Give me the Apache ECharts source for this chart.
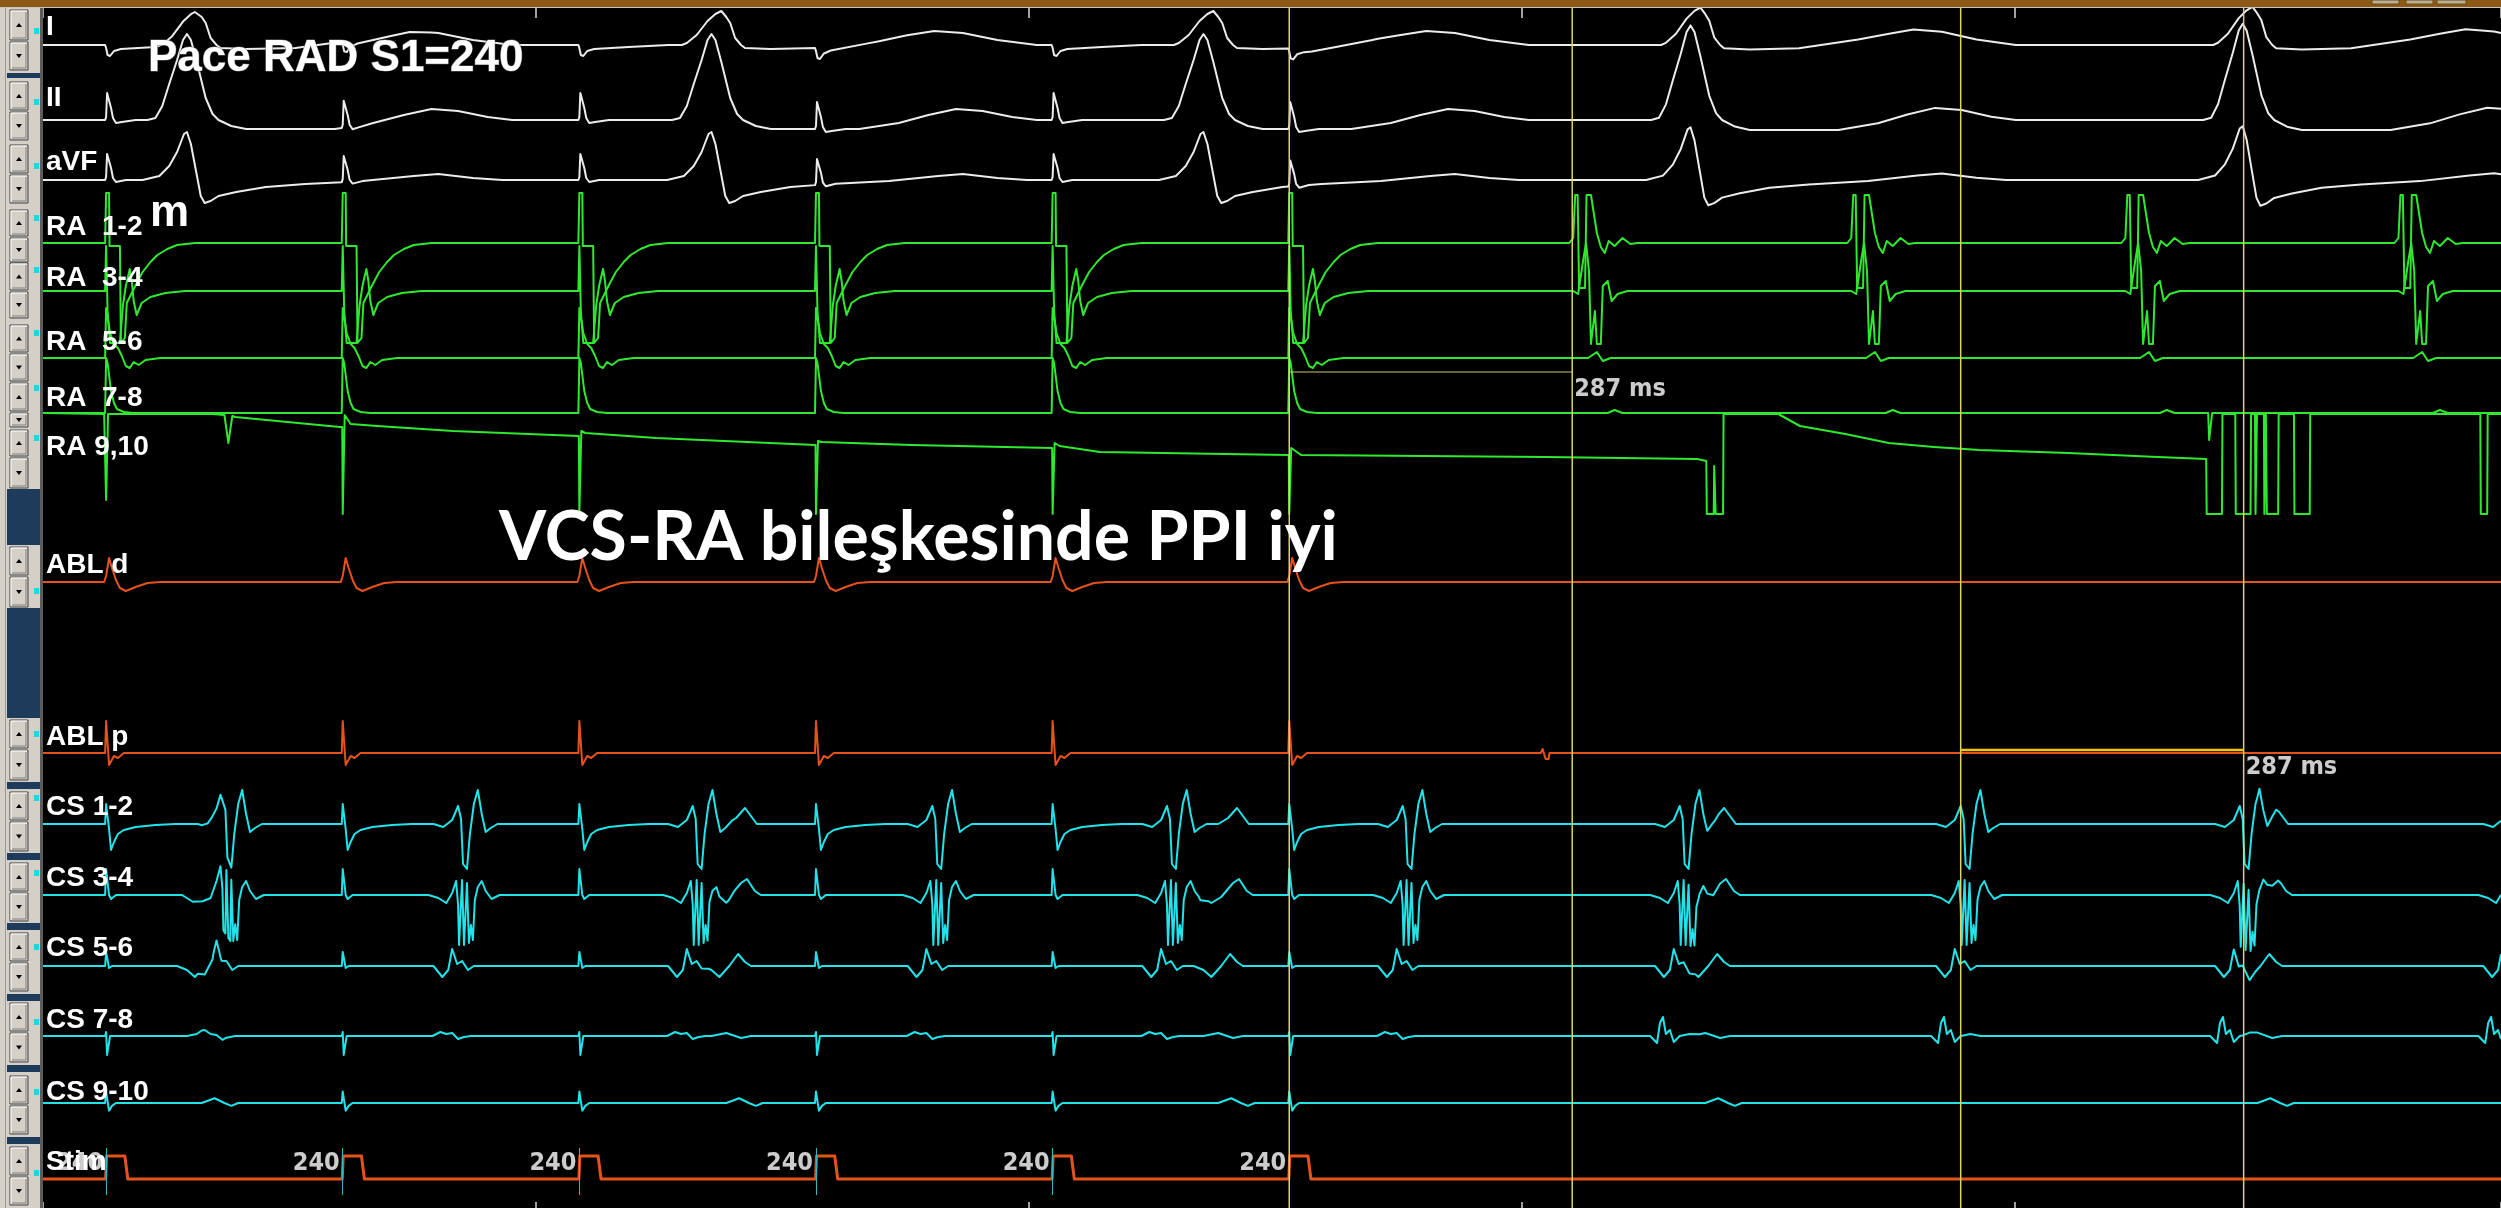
<!DOCTYPE html>
<html>
<head>
<meta charset="utf-8">
<script src="https://cdn.jsdelivr.net/npm/echarts/dist/echarts.min.js"></script>
<style>
html,body{margin:0;padding:0;background:#000;overflow:hidden}
#chart{width:2501px;height:1208px}
</style>
</head>
<body>
<div id="chart"></div>
<script>
// ---------- Recording data (time in ms from the left edge of the strip) ----------
const TMAX = 2493;
const paceTimes = [64, 304, 544, 784, 1024, 1264];
const stimCycleLabels = [240, 240, 240, 240, 240, 240];
const qrsTimes = [146, 678, 1177, 1671, 2231];
const qrsGain = [1.0, 1.0, 1.0, 1.1, 1.12];
const raReturnTimes = [1552, 1834, 2112, 2389];
const csPacedTimes = [182, 421, 659, 902, 1140, 1379];
const csReturnTimes = [1660, 1945, 2228, 2500];
const ra78DipTimes = [2197];
const ablpNotchTimes = [1523];
const caliperPairs = [[1264, 1551], [1945, 2232]];

const channelNames = ['I', 'II', 'aVF', 'RA  1-2', 'RA  3-4', 'RA  5-6', 'RA  7-8', 'RA 9,10',
  'ABL d', 'ABL p', 'CS 1-2', 'CS 3-4', 'CS 5-6', 'CS 7-8', 'CS 9-10', 'Stim'];

// ---------- Waveform shapes: [ms relative to event, amplitude] ----------
const I_pace   = [[-1,0],[0,-3],[1.5,-10],[4,-11],[8,-6],[15,-4],[50,-2],[90,0]];
const I_qrs    = [[-30,0],[-25,2],[-15,10],[-4,24],[4,31],[10,34],[15,28],[19,22],[24,7],[30,0],[34,-3],[60,-4],[110,-3],[170,5],[200,10],[226,14],[255,12],[290,5],[330,0]];
const II_pace  = [[-1,0],[0,3],[1,27],[3,27],[5,12],[7,2],[10,-3],[16,-2],[30,0]];
const II_qrs   = [[-40,0],[-32,2],[-25,14],[-18,36],[-10,60],[-4,80],[0,86],[4,80],[10,58],[19,22],[26,6],[32,0],[45,-6],[60,-9],[150,-9],[190,-3],[220,5],[248,11],[275,9],[305,3],[330,0]];
const aVF_pace = [[-1,0],[0,3],[1,26],[3,26],[5,12],[7,2],[10,-2],[20,0]];
const aVF_qrs  = [[-45,0],[-28,4],[-18,14],[-10,28],[-3,46],[0,48],[4,36],[9,10],[14,-16],[18,-23],[24,-21],[32,-16],[50,-12],[80,-7],[120,-4],[180,-1],[230,4],[255,6],[290,2],[320,0]];

const RA12_pace = [[-1,0],[0,50],[3,50],[3.5,-3],[14,-3],[15,-100],[19,-95],[21,-60],[25,-52],[30,-42],[37,-29],[45,-19],[52,-12],[62,-6],[72,-2],[90,0]];
const RA12_A    = [[-4,0],[0,5],[2,48],[4.5,48],[6,-45],[12,-45],[13.5,48],[18,48],[24,10],[28,-4],[32,-10],[36,2],[42,-3],[50,5],[58,-1],[65,0]];
const RA34_pace = [[-1,0],[0,45],[1.5,-20],[4,-52],[14,-52],[17,-15],[20,5],[24,22],[26,10],[28,-10],[31,-24],[36,-12],[45,-6],[60,-2],[80,0]];
const RA34_A    = [[0,0],[5,-3],[10,30],[13,48],[16,20],[18,-53],[22,-20],[24,-53],[28,-53],[30,5],[35,10],[39,-10],[45,-3],[55,0]];
const RA56_pace = [[-1,0],[0,50],[2,48],[4,25],[8,14],[12,10],[16,2],[20,-8],[24,-10],[28,-4],[33,-7],[40,-2],[55,0]];
const RA56_A    = [[15,0],[24,6],[30,-3],[38,0]];
const RA78_pace = [[-1,0],[0,55],[1.5,50],[3,38],[5,22],[8,10],[11,4],[18,1],[28,0]];
const RA78_A    = [[35,0],[42,3],[50,0]];
const RA78_dip  = [[-1,0],[0,-27],[2,-27],[3,0]];
const ra910Trace = [
  [0,0],[62,-1],[63.5,-2],[64,-87],[65.5,-87],[66,-1],
  [172,-1],[184,-2],[188,-30],[192,-3],[195,-4],
  [301,-14],[303.5,-14],[304,-101],[305.5,-101],[306,-2],[308,-3],[312,-11],[339,-13],[416,-18],[543.5,-23],
  [544,-101],[545.5,-101],[546,-18],[550,-20],[622,-25],[783.5,-32],
  [784,-101],[785.5,-101],[786,-28],[790,-29],[881,-32],[1023.5,-35],
  [1024,-101],[1025.5,-101],[1026,-30],[1031,-33],[1072,-39],[1263.5,-42],
  [1264,-101],[1265.5,-101],[1266,-35],[1276,-42],[1524,-44],[1678,-46],[1687,-48],
  [1687.5,-101],[1694.5,-101],[1695,-53],[1696.5,-101],[1704,-101],[1704.5,-1],
  [1760,-1],[1782,-13],[1828,-21],[1872,-30],[1918,-34],[1964,-37],[2054,-40],[2145,-44],[2194,-46],
  [2194.5,-101],[2210,-101],[2210.5,-1],[2223.5,-1],[2224,-101],[2239,-101],[2239.5,-1],
  [2243.5,-1],[2244,-101],[2245,-101],[2245.5,-1],[2252.5,-1],[2253,-101],[2254,-101],[2254.5,-1],
  [2255,-1],[2255.5,-101],[2267,-101],[2267.5,-1],[2283,-1],[2283.5,-101],[2299,-101],[2299.5,-1],
  [2472,-1],[2472.5,-101],[2479,-101],[2479.5,-1],[2493,-1]
];

const ABLd_pace  = [[-2,0],[0,6],[3,24],[6,14],[10,2],[14,-6],[20,-9],[30,-5],[42,-1],[55,0]];
const ABLp_pace  = [[-1,0],[0,32],[2,32],[3,-12],[5,-10],[8,-3],[12,-5],[18,0]];
const ABLp_notch = [[-4,0],[-2,4],[0,4],[1,-6],[4,-6],[5,0]];

const CS12_pace = [[-1,0],[0,20],[2,20],[3,-5],[5,-26],[8,-18],[12,-10],[18,-6],[30,-3],[50,-1],[70,0]];
const CS12_A    = [[-25,0],[-15,-3],[-6,4],[0,18],[3,5],[5,-40],[9,-45],[12,-10],[16,20],[20,34],[24,10],[28,-8],[33,-4],[40,0]];
const CS12_V    = [[15,0],[25,6],[34,16],[40,8],[46,0]];
const CS34_pace = [[-1,0],[0,26],[2,26],[3,0],[5,-4],[10,0]];
const CS34_A    = [[-30,0],[-20,-3],[-12,-8],[-6,2],[-2,14],[0,-10],[1,-50],[3,-50],[4,15],[6,-50],[8,-50],[9,12],[11,-48],[13,-30],[15,-45],[17,-5],[20,8],[24,14],[28,4],[34,-4],[42,0]];
const CS34_V    = [[-5,0],[8,-8],[18,-2],[30,12],[36,16],[44,4],[50,0]];
const CS56_pace = [[-1,0],[0,14],[2,14],[3,-2],[6,0]];
const CS56_A    = [[-25,0],[-16,-11],[-10,-4],[-6,17],[-3,8],[-1,2],[4,5],[10,-4],[16,0]];
const CS56_V    = [[-10,0],[0,-4],[8,-11],[18,0],[27,12],[34,4],[40,0]];
const CS78_pace = [[-1,0],[0,4],[1,-19],[3,-19],[4,0]];
const CS78_Ap   = [[-26,0],[-18,4],[-12,2],[-6,3],[0,-3],[6,-1],[13,0]];
const CS78_At   = [[-30,0],[-23,-7],[-20,13],[-17,19],[-14,2],[-10,6],[-6,-6],[0,0],[10,2],[20,0]];
const CS78_V    = [[0,0],[15,3],[30,-2],[40,0]];
const CS910_pace = [[-1,0],[0,12],[2,10],[3,-8],[6,-3],[10,0]];
const CS910_V    = [[15,0],[28,5],[38,0],[45,-3],[52,0]];
const stim_pulse = [[-0.5,0],[0.5,23],[19,23],[22,0]];

// ---------- Trace assembly ----------
function shapeAt(shape, dt) {
  const n = shape.length;
  if (dt < shape[0][0] || dt > shape[n - 1][0]) return 0;
  for (let i = 1; i < n; i++) {
    if (dt <= shape[i][0]) {
      const [t0, v0] = shape[i - 1], [t1, v1] = shape[i];
      return t1 === t0 ? v1 : v0 + (v1 - v0) * (dt - t0) / (t1 - t0);
    }
  }
  return shape[n - 1][1];
}
function buildTrace(parts, lo, hi) {
  const ts = new Set([0, TMAX]);
  parts.forEach(([times, shape]) => times.forEach(t0 => shape.forEach(([dt]) => {
    const t = t0 + dt;
    if (t >= 0 && t <= TMAX) ts.add(Math.round(t * 100) / 100);
  })));
  return [...ts].sort((a, b) => a - b).map(t => {
    let v = 0;
    parts.forEach(([times, shape, gains]) => times.forEach((t0, i) => {
      v += shapeAt(shape, t - t0) * (gains ? gains[i] : 1);
    }));
    return [t, Math.max(lo, Math.min(hi, v))];
  });
}

const WHITE = '#ececec', GREEN = '#2fe82f', CYAN = '#22e2ea', ORANGE = '#e6521c';
// channel lanes: baseline row on screen, headroom above/below
const channels = [
  { color: WHITE,  base: 45,   up: 45,  parts: [[paceTimes, I_pace], [qrsTimes, I_qrs, qrsGain]] },
  { color: WHITE,  base: 120,  parts: [[paceTimes, II_pace], [qrsTimes, II_qrs, qrsGain]] },
  { color: WHITE,  base: 180,  parts: [[paceTimes, aVF_pace], [qrsTimes, aVF_qrs, qrsGain]] },
  { color: GREEN,  base: 243,  parts: [[paceTimes, RA12_pace], [raReturnTimes, RA12_A]] },
  { color: GREEN,  base: 291,  parts: [[paceTimes, RA34_pace], [raReturnTimes, RA34_A]] },
  { color: GREEN,  base: 358,  parts: [[paceTimes, RA56_pace], [raReturnTimes, RA56_A]] },
  { color: GREEN,  base: 413,  parts: [[paceTimes, RA78_pace], [raReturnTimes, RA78_A], [ra78DipTimes, RA78_dip]] },
  { color: GREEN,  base: 413,  parts: [[[0], ra910Trace]] },
  { color: ORANGE, base: 582,  parts: [[paceTimes, ABLd_pace]] },
  { color: ORANGE, base: 753,  parts: [[paceTimes, ABLp_pace], [ablpNotchTimes, ABLp_notch]] },
  { color: CYAN,   base: 824,  parts: [[paceTimes, CS12_pace], [csPacedTimes, CS12_A], [csReturnTimes, CS12_A], [qrsTimes, CS12_V]] },
  { color: CYAN,   base: 895,  parts: [[paceTimes, CS34_pace], [csPacedTimes, CS34_A], [csReturnTimes, CS34_A], [qrsTimes, CS34_V]] },
  { color: CYAN,   base: 966,  parts: [[paceTimes, CS56_pace], [csPacedTimes, CS56_A], [csReturnTimes, CS56_A], [qrsTimes, CS56_V]] },
  { color: CYAN,   base: 1036, parts: [[paceTimes, CS78_pace], [csPacedTimes, CS78_Ap], [csReturnTimes, CS78_At], [qrsTimes, CS78_V]] },
  { color: CYAN,   base: 1108, parts: [[paceTimes, CS910_pace], [qrsTimes, CS910_V]] },
  { color: ORANGE, base: 1179, up: 31, down: 16, width: 3, parts: [[paceTimes, stim_pulse]] }
];
const labelRows = [27, 98, 162, 227, 278, 342, 398, 447, 565, 737, 807, 878, 948, 1020, 1092, 1162];
const dotRows   = [31, 102, 166, 218, 270, 333, 388, 438, 591, 734, 798, 873, 947, 1022, 1092, 1173];
const buttonRows = [[10,40,42,70],[82,110,112,140],[145,173,175,203],[210,236,238,262],[263,290,292,318],
  [325,352,354,381],[383,411,413,427],[430,456,458,488],[547,575,577,607],[720,748,750,780],
  [792,820,822,851],[863,891,893,921],[933,961,963,991],[1003,1031,1033,1062],[1076,1104,1106,1134],[1147,1175,1177,1205]];
const navyBands = [[73,78],[489,545],[608,718],[782,789],[853,860],[923,930],[994,1001],[1065,1072],[1137,1144]];
const caliperLanes = [{ ch: 6, level: 41, color: '#cfc46a', width: 1.2 }, { ch: 9, level: 3, color: '#f6c800', width: 2.5 }];
const NARROW = '"Liberation Sans Narrow","DejaVu Sans Condensed","DejaVu Sans",sans-serif';

const grids = [], xAxes = [], yAxes = [], series = [];
const LEFT = 43;
channels.forEach((ch, i) => {
  const up = ch.up || 110, down = ch.down || 110;
  grids.push({ left: LEFT, right: 0, top: ch.base - up, height: up + down });
  xAxes.push({ type: 'value', gridIndex: i, min: 0, max: TMAX, show: false });
  yAxes.push({ type: 'value', gridIndex: i, min: -down, max: up, show: false });
  series.push({
    type: 'line', xAxisIndex: i, yAxisIndex: i, data: buildTrace(ch.parts, -down, up),
    symbol: 'none', showSymbol: false, clip: false, silent: true, z: 2,
    lineStyle: { color: ch.color, width: ch.width || 2, join: 'round' }
  });
});
const STIM = channels.length - 1;
// pace markers and cycle length labels on the stim lane
series[STIM].markLine = {
  symbol: 'none', silent: true, label: { show: false },
  lineStyle: { color: '#3ab7be', width: 1, type: 'solid' },
  data: paceTimes.map(t => ({ xAxis: t }))
};
series.push({
  type: 'scatter', xAxisIndex: STIM, yAxisIndex: STIM, symbolSize: 0, silent: true, z: 5,
  data: paceTimes.map((t, i) => ({ value: [t, 16], label: { formatter: String(stimCycleLabels[i]) } })),
  label: { show: true, position: 'left', distance: 3, color: '#fff', fontWeight: 'bold',
    fontFamily: NARROW, fontSize: 25 }
});

// frame grid: time ticks at top and bottom plus cursors
const F = channels.length;
grids.push({ left: LEFT, right: 0, top: 8, bottom: 0 });
xAxes.push({ type: 'value', gridIndex: F, min: 0, max: TMAX, interval: 500, position: 'top',
  axisLine: { show: false, onZero: false }, axisLabel: { show: false }, splitLine: { show: false },
  axisTick: { show: true, inside: true, length: 10, lineStyle: { color: '#d8d8d8', width: 1.5 } } });
xAxes.push({ type: 'value', gridIndex: F, min: 0, max: TMAX, interval: 500, position: 'bottom',
  axisLine: { show: false, onZero: false }, axisLabel: { show: false }, splitLine: { show: false },
  axisTick: { show: true, inside: true, length: 6, lineStyle: { color: '#d8d8d8', width: 1.5 } } });
yAxes.push({ type: 'value', gridIndex: F, min: 0, max: 1, show: false });
caliperPairs.flat().forEach(t => series.push({
  type: 'line', xAxisIndex: F, yAxisIndex: F, data: [[t, 0], [t, 1]], symbol: 'none', silent: true, z: 6,
  lineStyle: { color: '#dcd46a', width: 1.5 }
}));

caliperPairs.forEach(([a, b], k) => {
  const lane = caliperLanes[k];
  series.push({
    type: 'line', xAxisIndex: lane.ch, yAxisIndex: lane.ch, data: [[a, lane.level], [b, lane.level]],
    symbol: 'none', silent: true, z: 7, clip: false, lineStyle: { color: lane.color, width: lane.width }
  });
  series.push({
    type: 'scatter', xAxisIndex: lane.ch, yAxisIndex: lane.ch, symbolSize: 0, silent: true, z: 8,
    data: [[b, lane.level]],
    label: { show: true, position: 'right', offset: [-3, 17], formatter: (b - a) + ' ms', color: '#fff',
      fontWeight: 'bold', fontFamily: NARROW, fontSize: 25 }
  });
});

// ---------- side panel, labels and notes ----------
const g = [];
g.push({ type: 'rect', shape: { x: 0, y: 0, width: LEFT, height: 1208 }, style: { fill: '#d4d0c8' }, z: 10 });
g.push({ type: 'rect', shape: { x: 5, y: 8, width: 1, height: 1200 }, style: { fill: '#9a9a9a' }, z: 11 });
g.push({ type: 'rect', shape: { x: 40, y: 8, width: 3, height: 1200 }, style: { fill: '#5c5c5c' }, z: 11 });
navyBands.forEach(([a, b]) => g.push({ type: 'rect', shape: { x: 7, y: a, width: 33, height: b - a }, style: { fill: '#1f3b5c' }, z: 11 }));
function button(y0, y1, up) {
  const x0 = 10, w = 18, h = y1 - y0, cx = x0 + w / 2, cy = (y0 + y1) / 2;
  g.push({ type: 'rect', shape: { x: x0, y: y0, width: w, height: h }, style: { fill: '#d4d0c8', stroke: '#404040', lineWidth: 1 }, z: 12 });
  g.push({ type: 'polyline', shape: { points: [[x0 + 1, y1 - 1], [x0 + 1, y0 + 1], [x0 + w - 1, y0 + 1]] }, style: { stroke: '#ffffff', lineWidth: 1, fill: null }, z: 13 });
  g.push({ type: 'polyline', shape: { points: [[x0 + 2, y1 - 2], [x0 + w - 2, y1 - 2], [x0 + w - 2, y0 + 2]] }, style: { stroke: '#808080', lineWidth: 1, fill: null }, z: 13 });
  const pts = up ? [[cx - 3, cy + 2], [cx + 3, cy + 2], [cx, cy - 2]] : [[cx - 3, cy - 2], [cx + 3, cy - 2], [cx, cy + 2]];
  g.push({ type: 'polygon', shape: { points: pts }, style: { fill: '#000' }, z: 14 });
}
buttonRows.forEach(([a, b, c, d]) => { button(a, b, true); button(c, d, false); });
dotRows.forEach(y => g.push({ type: 'rect', shape: { x: 34, y: y - 3, width: 5, height: 6 }, style: { fill: '#1fd6e6' }, z: 12 }));
// title strip
g.push({ type: 'rect', shape: { x: 0, y: 0, width: 2501, height: 7 }, style: { fill: '#8c5a14' }, z: 15 });
g.push({ type: 'rect', shape: { x: 0, y: 7, width: 2501, height: 1 }, style: { fill: '#c8c8c8' }, z: 15 });
[[2372, 27], [2406, 27], [2437, 29]].forEach(([x, w]) => g.push({ type: 'rect', shape: { x, y: 0, width: w, height: 4 }, style: { fill: '#b8ae9a', stroke: '#6b4a10' }, z: 16 }));

const LABEL_FONT = 'bold 28px "Liberation Sans", Arial, sans-serif';
channelNames.forEach((name, i) => g.push({
  type: 'text', x: 46, y: labelRows[i], z: 20,
  style: { text: name, fill: '#ffffff', font: LABEL_FONT, verticalAlign: 'middle', align: 'left' }
}));
g.push({ type: 'text', x: 150, y: 214, z: 20, style: { text: 'm', fill: '#fff', font: 'bold 44px "Liberation Sans", Arial, sans-serif', verticalAlign: 'middle' } });
g.push({ type: 'text', x: 148, y: 59, z: 20, style: { text: 'Pace RAD S1=240', fill: '#fff', stroke: '#6a6a6a', lineWidth: 1,
  font: 'bold 44px "Liberation Sans", Arial, sans-serif', verticalAlign: 'middle' } });

const note = 'VCS-RA bileşkesinde PPI iyi';
const mctx = document.createElement('canvas').getContext('2d');
mctx.font = 'bold 100px Lato';
const noteSize = Math.round(100 * 836 / mctx.measureText(note).width);
g.push({ type: 'text', x: 499, y: 538, z: 20, style: { text: note, fill: '#fff',
  font: 'bold ' + noteSize + 'px Lato, "Open Sans", sans-serif', verticalAlign: 'middle' } });

const chart = echarts.init(document.getElementById('chart'), null, { renderer: 'canvas' });
chart.setOption({
  backgroundColor: '#000', animation: false,
  grid: grids, xAxis: xAxes, yAxis: yAxes, series, graphic: { elements: g }
});
</script>
</body>
</html>
